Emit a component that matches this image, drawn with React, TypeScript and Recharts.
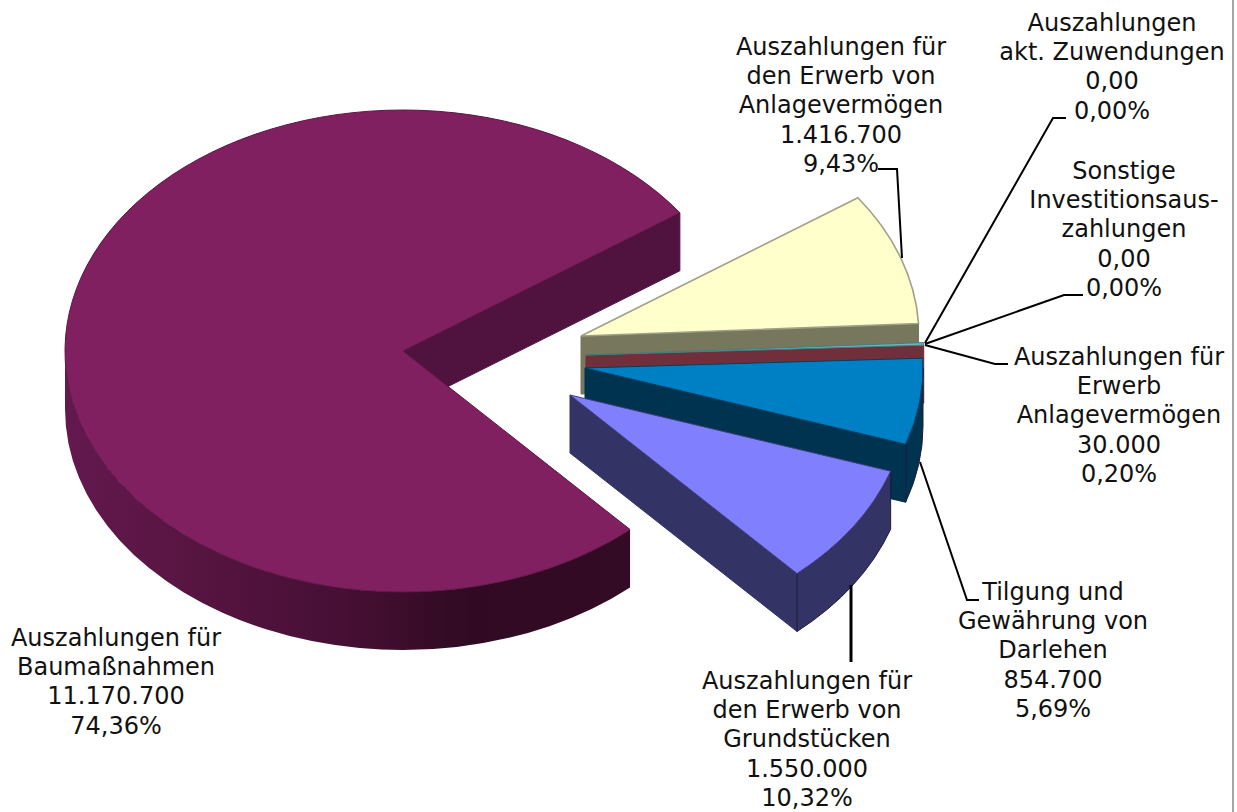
import { Pie, PieChart } from "recharts";

const categories = [
  ["Auszahlungen für", "den Erwerb von", "Anlagevermögen"],
  ["Auszahlungen", "akt. Zuwendungen"],
  ["Sonstige", "Investitionsaus-", "zahlungen"],
  ["Auszahlungen für", "Erwerb", "Anlagevermögen"],
  ["Tilgung und", "Gewährung von", "Darlehen"],
  ["Auszahlungen für", "den Erwerb von", "Grundstücken"],
  ["Auszahlungen für", "Baumaßnahmen"],
];
const amounts = [1416700, 0, 0, 30000, 854700, 1550000, 11170700];
const amountLabels = ["1.416.700", "0,00", "0,00", "30.000", "854.700", "1.550.000", "11.170.700"];
const percentLabels = ["9,43%", "0,00%", "0,00%", "0,20%", "5,69%", "10,32%", "74,36%"];

const data = amounts.map((value, id) => ({ id, value }));

// look of the slices, same order as the data
const topColors = ["#FFFFCC", "none", "none", "#6FB5B5", "#0080C4", "#8080FF", "#802060"];
const sideColors = ["#77775E", "none", "none", "#702F3A", "#00334F", "#333366", "#50123E"];
const edgeColors = ["#A0A088", "none", "none", "#3F7F7F", "#00405F", "#40407F", "#5E1646"];
const edgeWidths = [1.6, 0, 0, 1, 1, 1, 1];
const explodeX = [178, 0, 0, 183, 182, 167, 0];
const explodeY = [-15, 0, 0, 4, 17, 44, 0];

const PIE_X = 403;
const PIE_Y = 351;
const RADIUS = 338;
const SQUASH = 241 / 338;
const DEPTH = 58;

// the picture has some perspective, so angles are not quite linear
const angleIn = [35, 1.1, 0.4, -20.1, -57.3, -325];
const angleOut = [35, 3, 2.4, -18.4, -47.8, -325];

function warp(a: number) {
  for (let i = 0; i < angleIn.length - 1; i++) {
    if (a <= angleIn[i] && a >= angleIn[i + 1]) {
      const t = (angleIn[i] - a) / (angleIn[i] - angleIn[i + 1]);
      return angleOut[i] + t * (angleOut[i + 1] - angleOut[i]);
    }
  }
  return a;
}

// label block centre, first line y, and leader line of each slice
const labelX = [841, 1112, 1124, 1119, 1053, 807, 116];
const labelY = [55, 31, 179, 365, 600, 689, 646];
const leaders = [
  "878,169 897,169 902,258",
  "1066,118 1053,118 925,343",
  "1083,295 1064,295 925,344",
  "1008,364 995,364 925,345",
  "979,600 967,600 920,462",
  "851,585 851,662",
  "",
];
const leaderWidth = [2, 2, 2, 2, 2, 3, 0];

function Slice(props: any) {
  const { id, outerRadius, startAngle, endAngle, cx, cy } = props;
  if (startAngle === endAngle) return <g />;

  const ax = cx + explodeX[id];
  const ay = cy + explodeY[id];
  const rx = outerRadius;
  const ry = outerRadius * SQUASH;
  const a1 = warp(startAngle);
  const a2 = warp(endAngle);
  const px = (a: number) => ax + rx * Math.cos((a * Math.PI) / 180);
  const py = (a: number) => ay - ry * Math.sin((a * Math.PI) / 180);
  const large = a1 - a2 > 180 ? 1 : 0;

  const top = `M${ax},${ay} L${px(a1)},${py(a1)} A${rx},${ry} 0 ${large} 1 ${px(a2)},${py(a2)} Z`;
  const cut = `M${ax},${ay} L${px(a2)},${py(a2)} L${px(a2)},${py(a2) + DEPTH} L${ax},${ay + DEPTH} Z`;

  // rim only shows on the front half
  const r1 = Math.min(a1, 0);
  const r2 = Math.max(a2, -180);
  const rim =
    r1 > r2
      ? `M${px(r1)},${py(r1)} A${rx},${ry} 0 0 1 ${px(r2)},${py(r2)} L${px(r2)},${py(r2) + DEPTH} A${rx},${ry} 0 0 0 ${px(r1)},${py(r1) + DEPTH} Z`
      : null;

  return (
    <g>
      <path d={cut} fill={sideColors[id]} stroke={sideColors[id]} strokeWidth={1} />
      {rim && (
        <path
          d={rim}
          fill={id === 6 ? "url(#bigRim)" : sideColors[id]}
          stroke={id === 6 ? "none" : "#1c1c40"}
          strokeWidth={1}
        />
      )}
      <path d={top} fill={topColors[id]} stroke={edgeColors[id]} strokeWidth={edgeWidths[id]} />
    </g>
  );
}

function SliceLabel(props: any) {
  const { id } = props;
  const lines = [...categories[id], amountLabels[id], percentLabels[id]];
  return (
    <g>
      {leaders[id] && (
        <polyline points={leaders[id]} fill="none" stroke="#000" strokeWidth={leaderWidth[id]} />
      )}
      <text
        x={labelX[id]}
        y={labelY[id]}
        textAnchor="middle"
        fontFamily="DejaVu Sans"
        fontSize={24}
        fill="#111"
      >
        {lines.map((line, i) => (
          <tspan key={i} x={labelX[id]} y={labelY[id] + i * 29.2}>
            {line}
          </tspan>
        ))}
      </text>
    </g>
  );
}

export default function App() {
  return (
    <div style={{ position: "absolute", left: 0, top: 0, width: 1237, height: 812, background: "#fff" }}>
      <PieChart width={1237} height={812} margin={{ top: 0, right: 0, bottom: 0, left: 0 }}>
        <defs>
          <linearGradient id="bigRim" gradientUnits="userSpaceOnUse" x1={62} y1={0} x2={630} y2={0}>
            <stop offset="0%" stopColor="#64194F" />
            <stop offset="25%" stopColor="#561440" />
            <stop offset="50%" stopColor="#460F34" />
            <stop offset="72%" stopColor="#300A22" />
            <stop offset="100%" stopColor="#340A25" />
          </linearGradient>
        </defs>
        <Pie
          data={data}
          dataKey="value"
          cx={PIE_X}
          cy={PIE_Y}
          innerRadius={0}
          outerRadius={RADIUS}
          startAngle={35}
          endAngle={-325}
          paddingAngle={0}
          stroke="none"
          shape={Slice}
          label={SliceLabel}
          labelLine={false}
          isAnimationActive={false}
        />
      </PieChart>
      <div style={{ position: "absolute", left: 1232, top: 0, width: 2, height: 812, background: "#a6a6a6" }} />
    </div>
  );
}
